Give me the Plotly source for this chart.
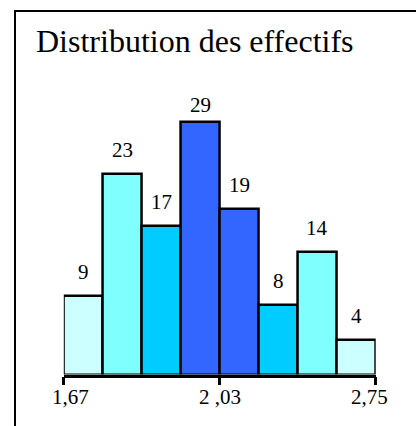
import plotly.graph_objects as go

# Histogram of class counts (8 equal-width classes)
counts = [9, 23, 17, 29, 19, 8, 14, 4]
bar_colors = ["#CCFFFF", "#80FFFF", "#00CCFF", "#3366FF",
              "#3366FF", "#00CCFF", "#80FFFF", "#CCFFFF"]
tick_positions = [0, 4, 8]
tick_labels = ["1,67", "2 ,03", "2,75"]
title_text = "Distribution des effectifs"

W, H = 416, 426
FONT = "Liberation Serif"

# pixel geometry of the plotting frame
x_left_px, x_right_px = 63.8, 375.7
base_px = 374.5
px_per_unit = 8.72

centers = [i + 0.5 for i in range(len(counts))]

fig = go.Figure()
fig.add_trace(go.Bar(
    x=centers, y=counts, width=1,
    marker=dict(color=bar_colors, line=dict(color="black", width=2.5)),
    hoverinfo="skip",
))

# value labels above each bar
label_shift = [10, 10, 10, 3, 10, 10, 10, 10]
for xc, v, s in zip(centers, counts, label_shift):
    fig.add_annotation(x=xc, y=v, xref="x", yref="y", text=str(v),
                       showarrow=False, yanchor="bottom", yshift=s,
                       font=dict(family=FONT, size=21, color="black"))

# class boundary labels under the axis
tick_xshift = [6.5, 0, -6]
for tp, tl, s in zip(tick_positions, tick_labels, tick_xshift):
    fig.add_annotation(x=tp, y=(H - 397) / H, xref="x", yref="paper",
                       text=tl, showarrow=False, xanchor="center",
                       yanchor="middle", xshift=s,
                       font=dict(family=FONT, size=21, color="black"))

# chart title
fig.add_annotation(x=34 / W, y=(H - 41) / H, xref="paper", yref="paper",
                   text=title_text, showarrow=False, xanchor="left",
                   yanchor="middle",
                   font=dict(family=FONT, size=32, color="black"))

# outer frame (open on the right and bottom edges of the page)
fig.add_shape(type="rect", xref="paper", yref="paper",
              x0=15 / W, x1=1.2, y0=-0.2, y1=(H - 11) / H,
              line=dict(color="black", width=2), fillcolor="rgba(0,0,0,0)",
              layer="above")

fig.update_layout(
    width=W, height=H,
    margin=dict(l=0, r=0, t=0, b=0, autoexpand=False),
    paper_bgcolor="white", plot_bgcolor="white",
    showlegend=False, bargap=0,
    xaxis=dict(domain=[x_left_px / W, x_right_px / W], range=[0, 8],
               showgrid=False, zeroline=False, showline=True,
               linecolor="black", linewidth=2.5,
               ticks="outside", ticklen=8, tickwidth=2.5, tickcolor="black",
               tickvals=tick_positions, showticklabels=False, fixedrange=True),
    yaxis=dict(domain=[(H - base_px) / H, 1], range=[0, base_px / px_per_unit],
               visible=False, fixedrange=True),
)

fig.write_html("out.html")
